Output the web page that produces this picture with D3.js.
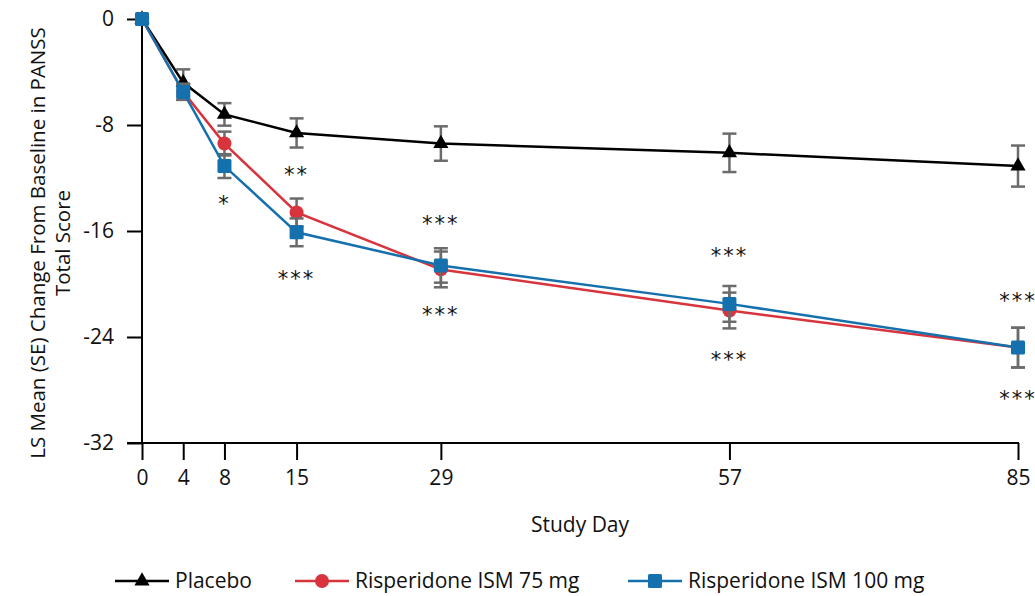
<!DOCTYPE html>
<html>
<head>
<meta charset="utf-8">
<script src="https://cdn.jsdelivr.net/npm/d3@7"></script>
<style>
    body { margin: 0; background: #fff; }
    text { font-family: "Open Sans", sans-serif; fill: #111; }
</style>
</head>
<body>
<div id="chart"></div>
<script>
//Data
var days = [0, 4, 8, 15, 29, 57, 85];
var placeboMean = [0, -4.8, -7.2, -8.6, -9.4, -10.1, -11.1];
var placeboSE = [0, 1.0, 0.85, 1.1, 1.3, 1.45, 1.55];
var ism75Mean = [0, -5.5, -9.4, -14.6, -18.9, -22.0, -24.8];
var ism75SE = [0, 0.6, 0.9, 1.05, 1.35, 1.35, 1.5];
var ism100Mean = [0, -5.5, -11.1, -16.1, -18.6, -21.5, -24.8];
var ism100SE = [0, 0.6, 0.9, 1.05, 1.3, 1.35, 1.5];
var yTicks = [0, -8, -16, -24, -32];
var seriesNames = ["Placebo", "Risperidone ISM 75 mg", "Risperidone ISM 100 mg"];
//significance marks: day, level, label
var sigDays = [8, 15, 15, 29, 29, 57, 57, 85, 85];
var sigLevels = [-13.8, -11.6, -19.5, -15.3, -22.2, -17.7, -25.6, -21.1, -28.5];
var sigLabels = ["*", "**", "***", "***", "***", "***", "***", "***", "***"];

var width = 1035, height = 596;

var svg = d3.select("#chart").append("svg")
    .attr("width", width)
    .attr("height", height);

var x = d3.scaleLinear().domain([0, 85]).range([142, 1018]);
var y = d3.scaleLinear().domain([0, -32]).range([19, 443]);

var series = [
    {name: seriesNames[0], mean: placeboMean, se: placeboSE, color: "#000000", shape: "triangle"},
    {name: seriesNames[1], mean: ism75Mean, se: ism75SE, color: "#d7343d", shape: "circle"},
    {name: seriesNames[2], mean: ism100Mean, se: ism100SE, color: "#1570ae", shape: "square"}
];

//plain hyphen for negatives, like the original
var fmt = function (d) {return d < 0 ? "-" + Math.abs(d) : String(d)};

//Axes
var yAxis = svg.append("g")
    .attr("transform", "translate(142,0)")
    .call(d3.axisLeft(y).tickValues(yTicks).tickSize(15).tickPadding(13).tickFormat(fmt));
yAxis.select(".domain").remove();
yAxis.append("line")
    .attr("x1", 0).attr("x2", 0)
    .attr("y1", y(0)).attr("y2", y(-32))
    .attr("stroke", "#000").attr("stroke-width", 2);

var xAxis = svg.append("g")
    .attr("transform", "translate(0," + y(-32) + ")")
    .call(d3.axisBottom(x).tickValues(days).tickSize(17).tickPadding(10).tickFormat(fmt));
xAxis.select(".domain").remove();
xAxis.append("line")
    .attr("x1", 127).attr("x2", x(85) + 1)
    .attr("stroke", "#000").attr("stroke-width", 2);

svg.selectAll(".tick line").attr("stroke", "#000").attr("stroke-width", 2);
svg.selectAll(".tick text")
    .attr("fill", "#111")
    .style("font-size", "21px")
    .style("font-family", "'Open Sans', sans-serif");

//Axis titles
svg.append("text")
    .attr("x", x(42.5))
    .attr("y", 532)
    .attr("text-anchor", "middle")
    .style("font-size", "21px")
    .text("Study Day");

var yTitle = svg.append("text")
    .attr("transform", "translate(45," + (y(-16) + 12) + ") rotate(-90)")
    .attr("text-anchor", "middle")
    .style("font-size", "20.5px");
yTitle.append("tspan").attr("x", 0).attr("dy", 0).text("LS Mean (SE) Change From Baseline in PANSS");
yTitle.append("tspan").attr("x", 0).attr("dy", 25).text("Total Score");

//Symbols
function drawMarker(g, shape, color) {
    if (shape === "triangle") {
        g.append("path").attr("d", d3.symbol().type(d3.symbolTriangle).size(100)).attr("fill", color);
    } else if (shape === "circle") {
        g.append("circle").attr("r", 7).attr("fill", color);
    } else {
        g.append("rect").attr("x", -7).attr("y", -7).attr("width", 14).attr("height", 14).attr("rx", 1.5).attr("fill", color);
    }
}

var line = d3.line()
    .x(function (d) {return x(d.day)})
    .y(function (d) {return y(d.value)});

//Draw each series: error bars, line, markers
series.forEach(function (s) {
    var pts = days.map(function (d, i) {return {day: d, value: s.mean[i], se: s.se[i]}});
    var g = svg.append("g");

    var eb = g.selectAll(".err")
        .data(pts.filter(function (p) {return p.se > 0}))
        .enter().append("g")
        .attr("stroke", "#6b6b6b").attr("stroke-width", 2.5);
    eb.append("line")
        .attr("x1", function (p) {return x(p.day)}).attr("x2", function (p) {return x(p.day)})
        .attr("y1", function (p) {return y(p.value + p.se)}).attr("y2", function (p) {return y(p.value - p.se)});
    [1, -1].forEach(function (sgn) {
        eb.append("line")
            .attr("x1", function (p) {return x(p.day) - 7}).attr("x2", function (p) {return x(p.day) + 7})
            .attr("y1", function (p) {return y(p.value + sgn * p.se)}).attr("y2", function (p) {return y(p.value + sgn * p.se)});
    });

    g.append("path")
        .datum(pts)
        .attr("d", line)
        .attr("fill", "none")
        .attr("stroke", s.color)
        .attr("stroke-width", 2.5);

    g.selectAll(".mk")
        .data(pts)
        .enter().append("g")
        .attr("transform", function (p) {return "translate(" + x(p.day) + "," + y(p.value) + ")"})
        .each(function () {drawMarker(d3.select(this), s.shape, s.color)});
});

//Significance asterisks
svg.selectAll(".sig")
    .data(sigDays)
    .enter().append("text")
    .attr("x", function (d) {return x(d)})
    .attr("y", function (d, i) {return y(sigLevels[i]) + 9})
    .attr("text-anchor", "middle")
    .style("font-family", "'DejaVu Sans', sans-serif")
    .style("font-size", "21px")
    .style("letter-spacing", "2px")
    .text(function (d, i) {return sigLabels[i]});

//Legend
var legendX = [115, 295, 628];
var legend = svg.selectAll(".legend")
    .data(series)
    .enter().append("g")
    .attr("transform", function (d, i) {return "translate(" + legendX[i] + ",581)"});
legend.append("line")
    .attr("x1", 0).attr("x2", 54)
    .attr("stroke", function (d) {return d.color})
    .attr("stroke-width", 2.5);
legend.each(function (d) {
    var m = d3.select(this).append("g").attr("transform", "translate(27,0)");
    drawMarker(m, d.shape, d.color);
});
legend.append("text")
    .attr("x", 60)
    .attr("dy", "0.35em")
    .style("font-size", "21px")
    .text(function (d) {return d.name});
</script>
</body>
</html>
